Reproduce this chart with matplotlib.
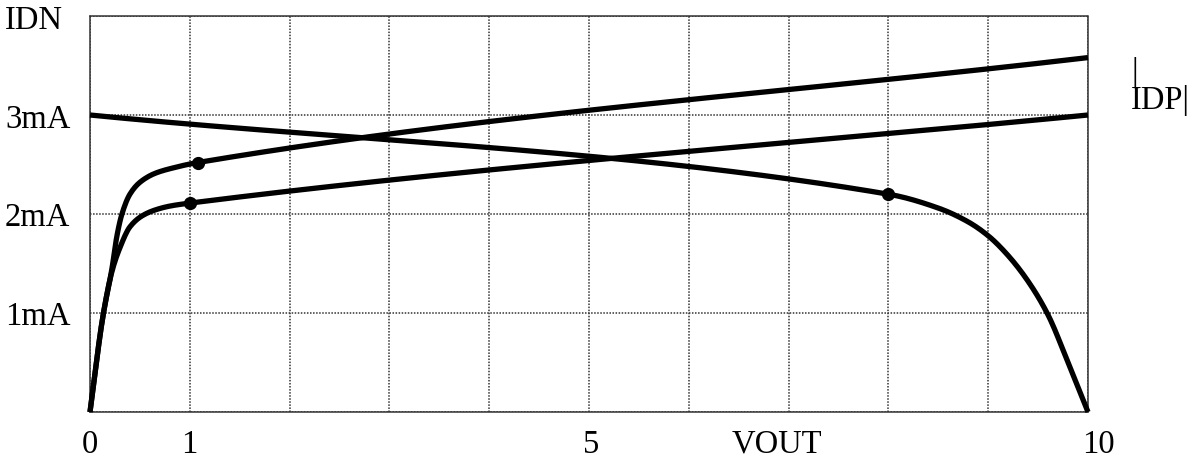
import numpy as np
import matplotlib
matplotlib.use("Agg")
import matplotlib.pyplot as plt

plt.rcParams['font.family'] = ['Liberation Serif', 'DejaVu Serif']

# curves: VOUT (V) vs current (mA)
# upper rising curve
a_x = [0.0, 0.13, 0.22, 0.27, 0.32, 0.40, 0.50, 0.65, 0.85, 1.08, 10.0]
a_y = [0.0, 0.97, 1.45, 1.78, 2.00, 2.20, 2.32, 2.41, 2.47, 2.52, 3.58]
# lower rising curve
b_x = [0.0, 0.13, 0.22, 0.30, 0.40, 0.52, 0.65, 0.80, 1.0, 10.0]
b_y = [0.0, 0.97, 1.42, 1.66, 1.87, 1.98, 2.04, 2.08, 2.11, 3.00]
# falling curve
c_x = [0.0, 8.0, 8.5, 8.8, 9.0, 9.2, 9.4, 9.6, 9.8, 10.0]
c_y = [3.00, 2.20, 2.06, 1.92, 1.78, 1.58, 1.32, 0.98, 0.50, 0.0]
# knee points
dot_x = [1.08, 1.0, 8.0]
dot_y = [2.52, 2.11, 2.20]

x_labels = {0: '0', 1: '1', 5.02: '5', 6.88: 'VOUT', 10.1: '10'}
y_labels = {1: '1mA', 2: '2mA', 3: '3mA', 4: 'IDN'}


def smooth(xs, ys, n=800):
    # monotone cubic hermite through the read points
    xs = np.array(xs); ys = np.array(ys)
    d = np.diff(ys) / np.diff(xs)
    m = np.zeros_like(xs)
    m[0] = d[0]; m[-1] = d[-1]
    for i in range(1, len(xs) - 1):
        if d[i-1] * d[i] <= 0:
            m[i] = 0
        else:
            w1 = 2*(xs[i+1]-xs[i]) + (xs[i]-xs[i-1])
            w2 = (xs[i+1]-xs[i]) + 2*(xs[i]-xs[i-1])
            m[i] = (w1 + w2) / (w1/d[i-1] + w2/d[i])
    t = np.linspace(xs[0], xs[-1], n)
    idx = np.clip(np.searchsorted(xs, t) - 1, 0, len(xs) - 2)
    h = xs[idx+1] - xs[idx]
    s = (t - xs[idx]) / h
    yy = (ys[idx]*(2*s**3-3*s**2+1) + h*m[idx]*(s**3-2*s**2+s)
          + ys[idx+1]*(-2*s**3+3*s**2) + h*m[idx+1]*(s**3-s**2))
    return t, yy


fig = plt.figure(figsize=(11.97, 4.6), dpi=100)
ax = fig.add_axes([90/1197, 47/460, 998/1197, 396/460])
ax.set_xlim(0, 10)
ax.set_ylim(0, 4)

for xs, ys in [(a_x, a_y), (b_x, b_y), (c_x, c_y)]:
    t, yy = smooth(xs, ys)
    ax.plot(t, yy, color='black', lw=3.8, solid_capstyle='butt', clip_on=False, zorder=3)

ax.plot(dot_x, dot_y, 'o', color='black', ms=8.5, clip_on=False, zorder=4)

ax.set_xticks(range(11))
ax.set_yticks(range(5))
ax.set_xticklabels([])
ax.set_yticklabels([])
ax.tick_params(length=0)
ax.grid(True, color='#333333', linestyle=(0, (1, 1)), linewidth=1.1)
for sp in ax.spines.values():
    sp.set_linestyle((0, (1, 1)))
    sp.set_color('#333333')
    sp.set_linewidth(1.1)

for xv, lab in x_labels.items():
    ax.text(xv, -0.32, lab, ha='center', va='center', fontsize=23.5)
for yv, lab in y_labels.items():
    fig.text(5/1197, 1 - (415 - 98.5*yv)/460, lab, ha='left', va='center', fontsize=23.5)

fig.text(1131/1197, 1 - 72/460, '|', ha='left', va='center', fontsize=23.5)
fig.text(1131/1197, 1 - 100/460, 'IDP|', ha='left', va='center', fontsize=23.5)

fig.savefig('out.png', dpi=100)
